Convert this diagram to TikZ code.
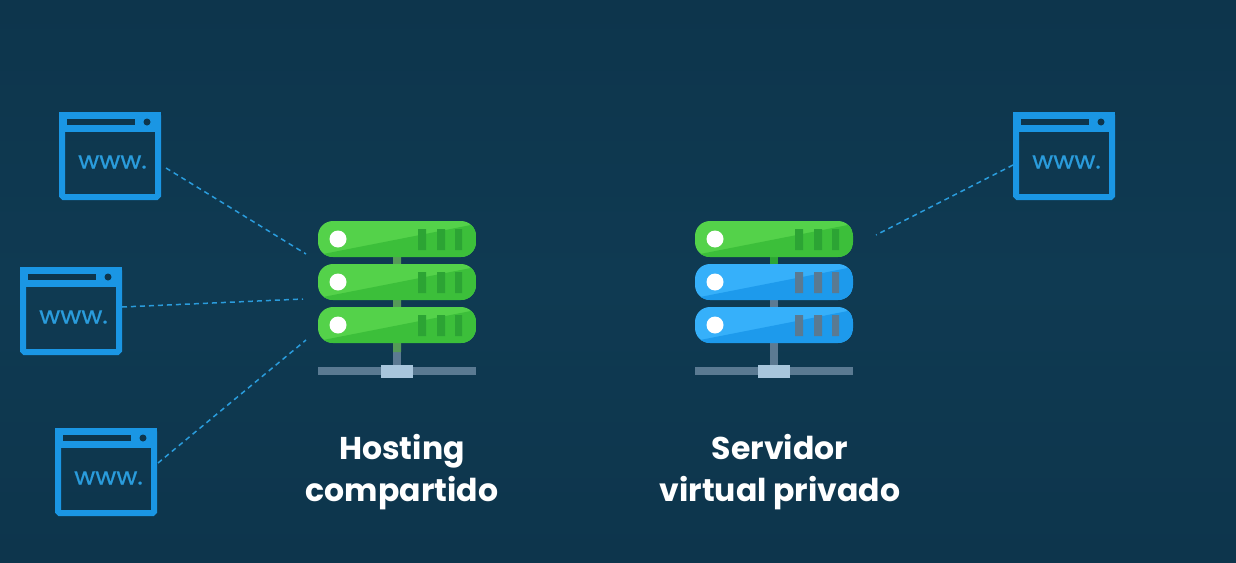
\documentclass[tikz,border=0pt]{standalone}
\usepackage{fontspec}
\setmainfont{Poppins}
\newfontfamily\webfont[FakeStretch=1.07,FakeBold=0.6]{Poppins}
\usetikzlibrary{calc,positioning}
\definecolor{fondoA}{HTML}{0D354C}
\definecolor{fondoB}{HTML}{0F3A52}
\definecolor{azulW}{HTML}{1A96E4}
\definecolor{azulT}{HTML}{2A9CDC}
\definecolor{verdeC}{HTML}{54D24A}
\definecolor{verdeO}{HTML}{3CBF3A}
\definecolor{verdeB}{HTML}{2CA434}
\definecolor{verdeP}{HTML}{569A58}
\definecolor{azulC}{HTML}{36B0FA}
\definecolor{azulO}{HTML}{1D9AEC}
\definecolor{grisB}{HTML}{5A7A92}
\definecolor{grisP}{HTML}{5C7A92}
\definecolor{grisC}{HTML}{A8C6DC}
\tikzset{
  web/.style={draw=azulW,line width=6pt,rounded corners=1.5pt,minimum width=96pt,minimum height=82pt,inner sep=0pt},
  webtexto/.style={text=azulT,font=\webfont\fontsize{24}{24}\selectfont,inner sep=0pt},
  enlace/.style={draw=azulT,line width=1.5pt,dash pattern=on 5pt off 4pt},
  rotulo/.style={text=white,font=\fontsize{31.5}{42}\selectfont\bfseries,align=center,inner sep=0pt},
  caja/.style={minimum width=158pt,minimum height=157pt,inner sep=0pt}
}
% one row of a server: #1 = left edge, #2 = top edge
\newcommand{\fila}[6]{
  \begin{scope}
    \clip[rounded corners=15pt] (#1,#2) rectangle ++(158,36);
    \fill[#3] (#1,#2) rectangle ++(158,36);
    \fill[#4] (#1,#2+34) -- (#1+158,#2+3) -- (#1+158,#2+36) -- (#1,#2+36) -- cycle;
  \end{scope}
  \fill[#5] (#1+100,#2+8) rectangle ++(8,21) (#1+119,#2+8) rectangle ++(8,21) (#1+137,#2+8) rectangle ++(7,21);
  \fill[#6] (#1+20,#2+18) circle (8.5);
}
\newcommand{\ventana}[3]{
  \node[web] (#1) at (#2,#3) {};
  \node[webtexto] (#1txt) at (#2+2.5,#3+6) {www.};
  \fill[azulW] (#1.north west) rectangle ($(#1.north east)+(0,20)$);
  \fill[fondoA] ($(#1.north west)+(8,7)$) rectangle ++(68,6);
  \fill[fondoA] ($(#1.north east)+(-14,10)$) circle (3.5);
}
\begin{document}
\begin{tikzpicture}[x=1pt,y=-1pt]
  \useasboundingbox (0,0) rectangle (1236,562);
  \shade[top color=fondoA,bottom color=fondoA,middle color=fondoB] (0,0) rectangle (1236,562);

  \ventana{webA}{110}{156}
  \ventana{webB}{71}{311}
  \ventana{webC}{106}{472}
  \ventana{webD}{1064}{156}

  \node[caja] (servA) at (397,299) {};
  \node[caja] (servB) at (774,299) {};

  % left server
  \fill[grisP] (393,255) rectangle (401,366);
  \fill[verdeP] (393,255) rectangle (401,309) (393,341) rectangle (401,352);
  \fill[grisB] (318,367) rectangle (476,375);
  \fill[grisC] (381,365) rectangle (413,378);
  \fila{318}{221}{verdeC}{verdeO}{verdeB}{white}
  \fila{318}{264}{verdeC}{verdeO}{verdeB}{white}
  \fila{318}{307}{verdeC}{verdeO}{verdeB}{white}

  % right server
  \fill[grisP] (770,255) rectangle (778,366);
  \fill[verdeB] (770,255) rectangle (778,265);
  \fill[grisB] (695,367) rectangle (853,375);
  \fill[grisC] (758,365) rectangle (790,378);
  \fila{695}{221}{verdeC}{verdeO}{verdeB}{white}
  \fila{695}{264}{azulC}{azulO}{grisB}{white}
  \fila{695}{307}{azulC}{azulO}{grisB}{white}

  \coordinate (portA1) at (306,254);
  \coordinate (portA2) at (303,299);
  \coordinate (portA3) at (306,340);
  \coordinate (portB1) at (876,235);
  \draw[enlace] ($(webA.east)+(5,12)$) -- (portA1);
  \draw[enlace] ($(webB.east)+(0,-4)$) -- (portA2);
  \draw[enlace] ($(webC.east)+(1,-9)$) -- (portA3);
  \draw[enlace] ($(webD.west)+(0,9)$) -- (portB1);

  \node[rotulo] (hosting) at (402,472) {Hosting\\compartido};
  \node[rotulo] (vps) at (780,472) {Servidor\\virtual privado};
\end{tikzpicture}
\end{document}
